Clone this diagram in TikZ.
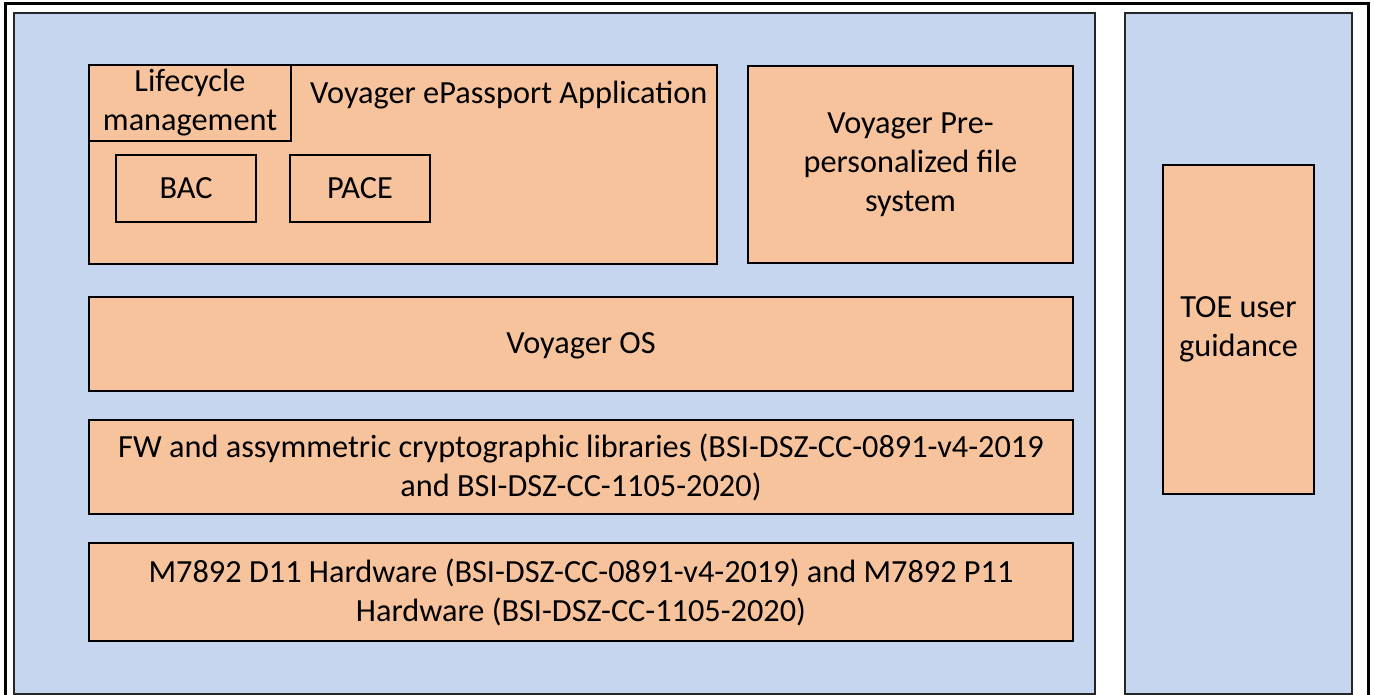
\documentclass[tikz,border=0pt]{standalone}
\usepackage{fontspec}
\setmainfont{Carlito}
\definecolor{bluebg}{HTML}{C6D6EF}
\definecolor{orangebox}{HTML}{F7C39C}
\tikzset{
  panel/.style={draw=black!85, line width=2pt, fill=bluebg, inner sep=0pt, anchor=north west},
  block/.style={draw=black, line width=2pt, fill=orangebox, inner sep=0pt, anchor=north west},
  lbl/.style={font=\fontsize{32.3}{39}\selectfont, align=center, inner sep=0pt}
}
\begin{document}
\begin{tikzpicture}[x=1pt,y=-1pt]
\useasboundingbox (0,0) rectangle (1374,695);
\fill[white] (0,0) rectangle (1374,695);
% outer frame
\draw[line width=3pt] (5,4) rectangle (1368,720);
% panels
\node[panel, minimum width=1081pt, minimum height=681pt] (left) at (13,12) {};
\node[panel, minimum width=227pt, minimum height=681pt] (right) at (1124,12) {};
% application block
\node[block, minimum width=628pt, minimum height=199pt] (app) at (88,64) {};
\node[block, minimum width=202pt, minimum height=76pt] (life) at (88,64) {};
\node[lbl] at (life.center) {Lifecycle\\management};
\node[lbl, anchor=base west] (applbl) at (310,104) {Voyager ePassport Application};
\node[block, minimum width=140pt, minimum height=67pt] (bac) at (115,154) {};
\node[lbl] at (bac.center) {BAC};
\node[block, minimum width=140pt, minimum height=67pt] (pace) at (289,154) {};
\node[lbl] at (pace.center) {PACE};
% file system
\node[block, minimum width=325pt, minimum height=197pt] (fs) at (747,65) {};
\node[lbl] at (fs.center) {Voyager Pre-\\personalized file\\system};
% OS
\node[block, minimum width=984pt, minimum height=94pt] (os) at (88,296) {};
\node[lbl] at ([yshift=-2pt]os.center) {Voyager OS};
% FW
\node[block, minimum width=984pt, minimum height=94pt] (fw) at (88,419) {};
\node[lbl] at (fw.center) {FW and assymmetric cryptographic libraries (BSI-DSZ-CC-0891-v4-2019\\and BSI-DSZ-CC-1105-2020)};
% HW
\node[block, minimum width=984pt, minimum height=98pt] (hw) at (88,542) {};
\node[lbl] at (hw.center) {M7892 D11 Hardware (BSI-DSZ-CC-0891-v4-2019) and M7892 P11\\Hardware (BSI-DSZ-CC-1105-2020)};
% TOE guidance
\node[block, minimum width=151pt, minimum height=329pt] (toe) at (1162,164) {};
\node[lbl] at (toe.center) {TOE user\\guidance};
\end{tikzpicture}
\end{document}
